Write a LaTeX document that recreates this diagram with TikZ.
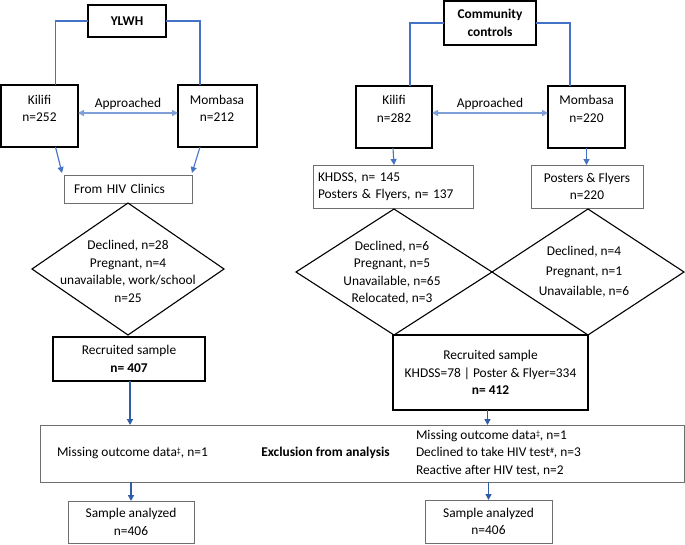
\documentclass[tikz,border=0pt]{standalone}
\usepackage{fontspec}
\setmainfont{Carlito}
\usetikzlibrary{arrows.meta,shapes.geometric}
\definecolor{conblue}{HTML}{4472C4}
\definecolor{lightblue}{HTML}{7F9FD9}
\definecolor{darkblue}{HTML}{2F5DA8}
\definecolor{boxgray}{HTML}{6E6E6E}
\newcommand{\supmark}[1]{\raisebox{3pt}{\fontsize{8}{8}\selectfont #1}}
\begin{document}
\begin{tikzpicture}[x=1pt,y=-1pt,
  every node/.style={font=\fontsize{13.4}{17.5}\selectfont, inner sep=0pt, outer sep=0pt, align=center},
  mainbox/.style={draw=black, line width=1.3pt, rectangle},
  graybox/.style={draw=boxgray, line width=1pt, rectangle},
  dia/.style={draw=black, line width=1.1pt, diamond, inner sep=0pt},
  conn/.style={draw=conblue, line width=1.3pt},
  connarr/.style={draw=conblue, line width=1.1pt, -{Triangle[length=6pt,width=6pt]}},
  approach/.style={draw=lightblue, line width=1.6pt, {Triangle[length=6pt,width=6pt]}-{Triangle[length=6pt,width=6pt]}},
  botarr/.style={draw=darkblue, line width=1.5pt, -{Triangle[length=6pt,width=6pt]}},
  txt/.style={}]
\useasboundingbox (0,0) rectangle (685,544);

% ---------- YLWH side ----------
\node[mainbox, minimum width=78pt, minimum height=32pt, font=\fontsize{13.4}{17.5}\selectfont\bfseries] (ylwh) at (127,21) {YLWH};
\node[mainbox, minimum width=77pt, minimum height=62pt] (kil1) at (39.5,116) {};
\node[txt] (kil1t) at (39.5,108.5) {Kilifi\\n=252};
\node[mainbox, minimum width=79pt, minimum height=62pt] (mom1) at (217.5,116) {};
\node[txt] (mom1t) at (217,108.5) {Mombasa\\n=212};
\node[graybox, minimum width=128pt, minimum height=28pt, inner xsep=10pt, text width=108pt, align=left] (clin) at (128,189) {From HIV Clinics};
\node[dia, minimum width=192pt, minimum height=132pt] (d1) at (128,269) {};
\node[txt] (d1t) at (128,271.5) {Declined, n=28\\Pregnant, n=4\\unavailable, work/school\\n=25};
\node[mainbox, minimum width=152pt, minimum height=44pt] (rec1) at (129,359) {Recruited sample\\\textbf{n= 407}};

\draw[conn] (ylwh.west) -| ([xshift=16pt]kil1.north);
\draw[conn] (ylwh.east) -| ([xshift=-17.5pt]mom1.north);
\draw[approach] ([yshift=3pt]kil1.east) -- ([yshift=3pt]mom1.west) node[midway, above=3pt] (appr1) {Approached};
\draw[connarr] ([xshift=16pt]kil1.south) -- ([xshift=-2pt,yshift=2pt]clin.north west);
\draw[connarr] ([xshift=-17.5pt]mom1.south) -- ([yshift=2pt]clin.north east);

% ---------- Community controls side ----------
\node[mainbox, minimum width=92pt, minimum height=44pt, font=\fontsize{13.4}{17.5}\selectfont\bfseries] (cc) at (490,23) {Community\\controls};
\node[mainbox, minimum width=76pt, minimum height=62pt] (kil2) at (394,117) {};
\node[txt] (kil2t) at (394,109) {Kilifi\\n=282};
\node[mainbox, minimum width=77pt, minimum height=62pt] (mom2) at (586.5,117) {};
\node[txt] (mom2t) at (586.5,109) {Mombasa\\n=220};
\node[graybox, minimum width=160pt, minimum height=43pt, inner xsep=5pt, text width=150pt, align=left] (khdss) at (393,186.5) {KHDSS, n= 145\\Posters \& Flyers, n= 137};
\node[graybox, minimum width=112pt, minimum height=43pt] (post) at (587,186.5) {Posters \& Flyers\\n=220};
\node[dia, minimum width=196pt, minimum height=126pt] (d2) at (394,272) {};
\node[txt] (d2t) at (392,272.5) {Declined, n=6\\Pregnant, n=5\\Unavailable, n=65\\Relocated, n=3};
\node[dia, minimum width=192pt, minimum height=126pt] (d3) at (588,272) {};
\node[txt] (d3t) at (584,272) {Declined, n=4\\[2.5pt]Pregnant, n=1\\[2.5pt]Unavailable, n=6};
\node[mainbox, minimum width=195pt, minimum height=75pt] (rec2) at (490.5,372.5) {Recruited sample\\KHDSS=78 | Poster \& Flyer=334\\\textbf{n= 412}};

\draw[conn] (cc.west) -| ([xshift=16pt]kil2.north);
\draw[conn] (cc.east) -| ([xshift=-16.5pt]mom2.north);
\draw[approach] ([yshift=4pt]kil2.east) -- ([yshift=4pt]mom2.west) node[midway, above=3pt] (appr2) {Approached};
\draw[connarr] ([xshift=-1pt]kil2.south) -- (kil2.south |- khdss.north);
\draw[connarr] (mom2.south) -- (mom2.south |- post.north);

% ---------- Exclusion and analysis ----------
\node[graybox, minimum width=644pt, minimum height=57pt] (excl) at (362,453.5) {};
\node[txt, anchor=west] (exl) at (57,453) {Missing outcome data\supmark{‡}, n=1};
\node[txt, font=\fontsize{13.4}{17.5}\selectfont\bfseries] (exm) at (325.5,453) {Exclusion from analysis};
\node[txt, anchor=west, align=left] (exr) at (416,453) {Missing outcome data\supmark{‡}, n=1\\Declined to take HIV test\supmark{\#}, n=3\\Reactive after HIV test, n=2};
\node[graybox, minimum width=126pt, minimum height=42pt] (samp1) at (131,522) {Sample analyzed\\n=406};
\node[graybox, minimum width=127pt, minimum height=43pt] (samp2) at (488.5,521.5) {Sample analyzed\\n=406};

\draw[botarr] ([xshift=1pt]rec1.south) -- ([xshift=1pt]rec1.south |- excl.north);
\draw[botarr] ([xshift=-3pt]rec2.south) -- ([xshift=-3pt]rec2.south |- excl.north);
\draw[botarr] (samp1.north |- excl.south) -- (samp1.north);
\draw[botarr] (samp2.north |- excl.south) -- (samp2.north);
\end{tikzpicture}
\end{document}
